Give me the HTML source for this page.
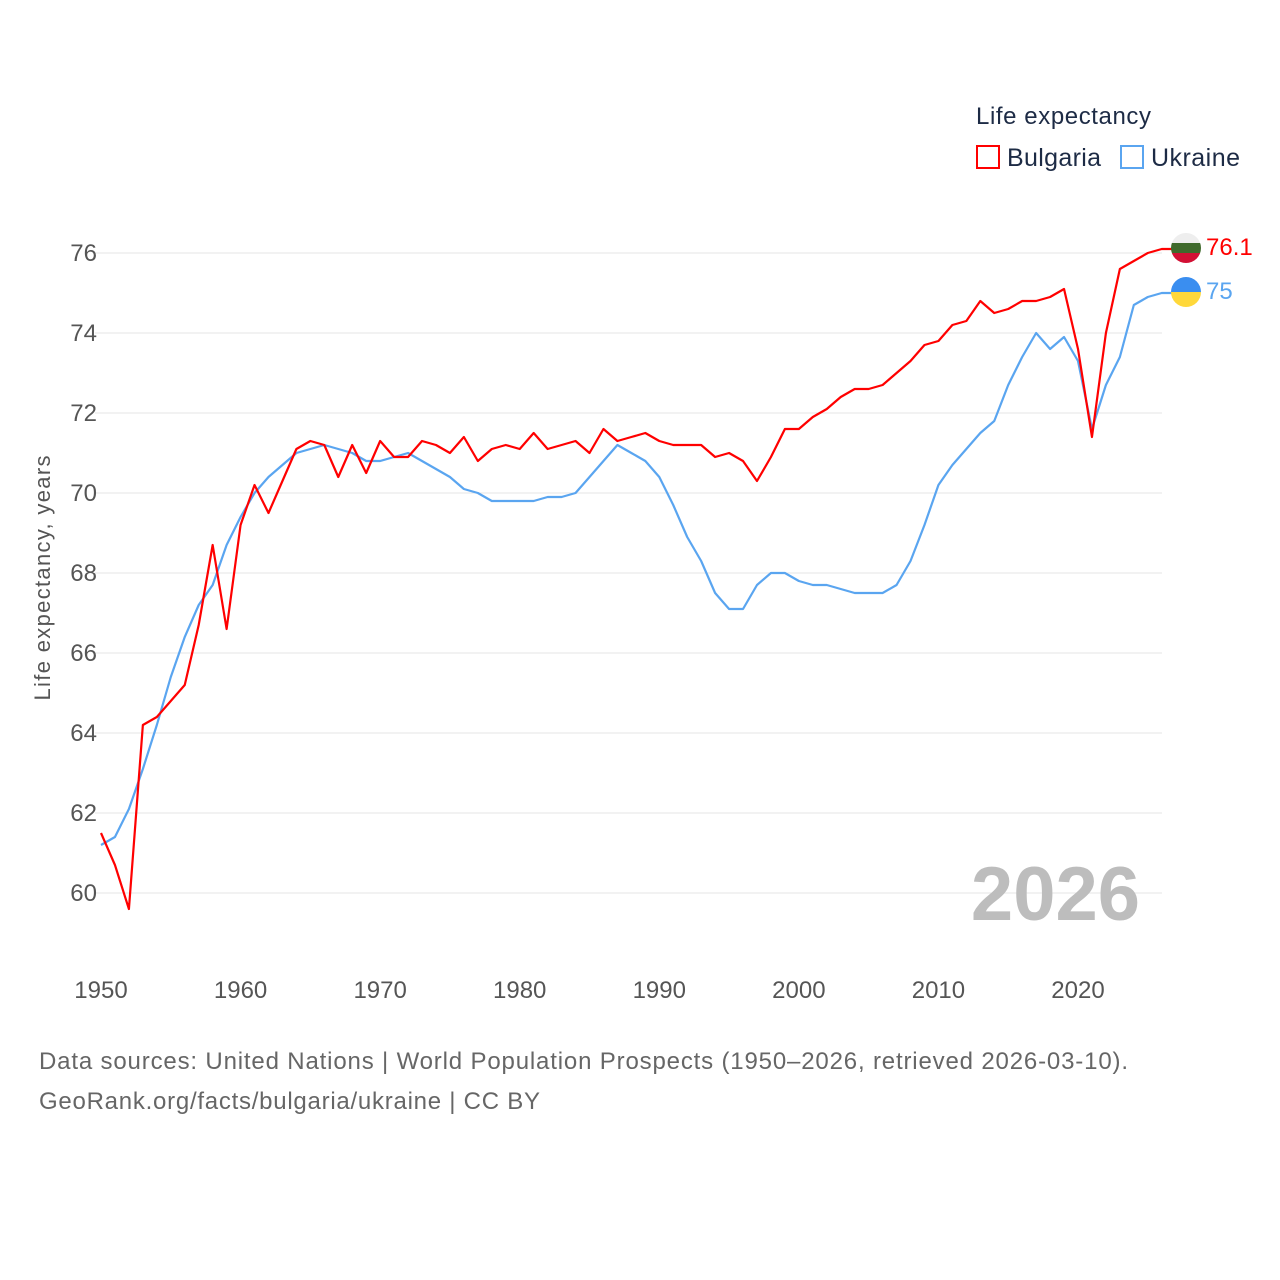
<!DOCTYPE html>
<html><head><meta charset="utf-8"><style>
body{margin:0;background:#fff;font-family:"Liberation Sans",sans-serif}
svg{display:block}
</style></head><body>
<svg id="c" width="1280" height="1280">
<text x="976" y="124" font-size="24" fill="#1d2b45" textLength="175">Life expectancy</text>
<rect x="977" y="146" width="22" height="22" fill="none" stroke="#f00" stroke-width="2"/>
<text x="1007" y="166" font-size="25" fill="#1d2b45" textLength="94">Bulgaria</text>
<rect x="1121" y="146" width="22" height="22" fill="none" stroke="#5aa5f0" stroke-width="2"/>
<text x="1151" y="166" font-size="25" fill="#1d2b45" textLength="89">Ukraine</text>
<g id="grid"></g><g id="lines"></g>
<text x="1140" y="920" font-size="76" font-weight="bold" fill="#bdbdbd" text-anchor="end">2026</text>
<text transform="translate(50,578) rotate(-90)" font-size="22" fill="#555" text-anchor="middle" textLength="245">Life expectancy, years</text>
<text x="39" y="1069" font-size="24" fill="#666" textLength="1089">Data sources: United Nations | World Population Prospects (1950–2026, retrieved 2026-03-10).</text>
<text x="39" y="1109" font-size="24" fill="#666" textLength="501">GeoRank.org/facts/bulgaria/ukraine | CC BY</text>
</svg>
<script>
const years=[];for(let y=1950;y<=2026;y++)years.push(y);
const bulgaria=[61.5,60.7,59.6,64.2,64.4,64.8,65.2,66.7,68.7,66.6,69.2,70.2,69.5,70.3,71.1,71.3,71.2,70.4,71.2,70.5,71.3,70.9,70.9,71.3,71.2,71.0,71.4,70.8,71.1,71.2,71.1,71.5,71.1,71.2,71.3,71.0,71.6,71.3,71.4,71.5,71.3,71.2,71.2,71.2,70.9,71.0,70.8,70.3,70.9,71.6,71.6,71.9,72.1,72.4,72.6,72.6,72.7,73.0,73.3,73.7,73.8,74.2,74.3,74.8,74.5,74.6,74.8,74.8,74.9,75.1,73.6,71.4,74.0,75.6,75.8,76.0,76.1];
const ukraine=[61.2,61.4,62.1,63.1,64.2,65.4,66.4,67.2,67.7,68.7,69.4,70.0,70.4,70.7,71.0,71.1,71.2,71.1,71.0,70.8,70.8,70.9,71.0,70.8,70.6,70.4,70.1,70.0,69.8,69.8,69.8,69.8,69.9,69.9,70.0,70.4,70.8,71.2,71.0,70.8,70.4,69.7,68.9,68.3,67.5,67.1,67.1,67.7,68.0,68.0,67.8,67.7,67.7,67.6,67.5,67.5,67.5,67.7,68.3,69.2,70.2,70.7,71.1,71.5,71.8,72.7,73.4,74.0,73.6,73.9,73.3,71.6,72.7,73.4,74.7,74.9,75.0];
const yTicks=[60,62,64,66,68,70,72,74,76];
const xTicks=[1950,1960,1970,1980,1990,2000,2010,2020];
const X=y=>101+(y-1950)*977/70, Y=v=>893-(v-60)*40;
const NS="http://www.w3.org/2000/svg";
const g=document.getElementById('grid'),L=document.getElementById('lines'),svg=document.getElementById('c');
function mk(t,a,p){const e=document.createElementNS(NS,t);for(const k in a)e.setAttribute(k,a[k]);(p||svg).appendChild(e);return e;}
yTicks.forEach(v=>{
 const l=mk('line',{x1:95,x2:1162,y1:Y(v),y2:Y(v),stroke:'#e6e6e6','stroke-width':1},g);
 
 
 const t=mk('text',{x:97,y:Y(v)+8,'font-size':24,fill:'#555','text-anchor':'end'},g);t.textContent=v;
 
 
});
xTicks.forEach(v=>{
 const t=mk('text',{x:X(v),y:998,'font-size':24,fill:'#555','text-anchor':'middle'},g);t.textContent=v;
 
 
});
function line(d,c,n){
 const pts=d.map((v,i)=>X(years[i])+','+Y(v));
 pts.push('1172,'+Y(d[d.length-1]));
 const p=mk('polyline',{points:pts.join(' '),fill:'none',stroke:c,'stroke-width':2.2,'stroke-linejoin':'round'},L);
 
 
}
line(ukraine,'#5aa5f0','ukraine');line(bulgaria,'#f00','bulgaria');
function flag(v,n,cols,c,lab){
 const cx=1186,cy=Y(v)-1;
 const gr=mk('g',{},L);
 
 
 const id='clip'+n;const cp=mk('clipPath',{id:id},gr);mk('circle',{cx:cx,cy:cy,r:15},cp);
 const h=30/cols.length;cols.forEach((col,i)=>mk('rect',{x:cx-15,y:cy-15+i*h,width:30,height:h+0.5,fill:col,'clip-path':'url(#'+id+')'},gr));
 const t=mk('text',{x:1206,y:cy+7,'font-size':24,fill:c},L);t.textContent=lab;
 
 
}
flag(bulgaria[bulgaria.length-1],'bulgaria',['#eeeeee','#3f6a2c','#d21034'],'#f00',String(bulgaria[bulgaria.length-1]));
flag(ukraine[ukraine.length-1],'ukraine',['#3a8ef0','#ffd83a'],'#5aa5f0',String(ukraine[ukraine.length-1]));
</script>
</body></html>
